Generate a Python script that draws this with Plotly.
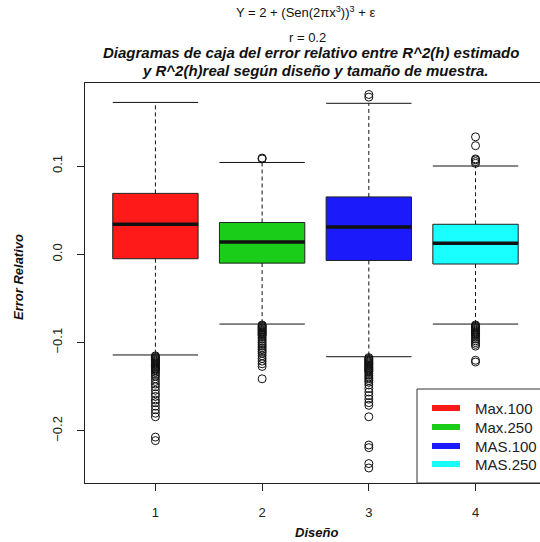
import plotly.graph_objects as go

# ---- data ----
designs = [1, 2, 3, 4]
names = ["Max.100", "Max.250", "MAS.100", "MAS.250"]
colors = ["#FF1A1A", "#19CD19", "#1A1AFA", "#19FFFF"]

q1 = [-0.005, -0.010, -0.007, -0.011]
median = [0.034, 0.014, 0.031, 0.0125]
q3 = [0.069, 0.036, 0.065, 0.034]
upper_whisker = [0.172, 0.104, 0.171, 0.100]
lower_whisker = [-0.114, -0.079, -0.116, -0.079]

out_max100 = [-0.115, -0.116, -0.117, -0.118, -0.119, -0.120, -0.121, -0.122, -0.123,
              -0.124, -0.125, -0.126, -0.127, -0.128, -0.129, -0.130, -0.131, -0.132,
              -0.134, -0.136, -0.138, -0.141, -0.144, -0.147, -0.150, -0.154, -0.158,
              -0.161, -0.165, -0.168, -0.172, -0.176, -0.180, -0.184, -0.207, -0.211]
out_max250 = [0.108, 0.109, -0.080, -0.081, -0.082, -0.083, -0.084, -0.085, -0.086,
              -0.087, -0.088, -0.089, -0.090, -0.091, -0.092, -0.094, -0.096, -0.098,
              -0.100, -0.102, -0.104, -0.106, -0.108, -0.110, -0.112, -0.115, -0.118,
              -0.121, -0.124, -0.127, -0.141]
out_mas100 = [0.178, 0.181, -0.117, -0.118, -0.119, -0.120, -0.121, -0.122, -0.123,
              -0.124, -0.125, -0.126, -0.127, -0.128, -0.129, -0.130, -0.131, -0.132,
              -0.133, -0.135, -0.137, -0.139, -0.141, -0.143, -0.145, -0.148, -0.152,
              -0.156, -0.160, -0.164, -0.168, -0.171, -0.184, -0.216, -0.219, -0.237,
              -0.242]
out_mas250 = [0.103, 0.105, 0.107, 0.108, 0.123, 0.133, -0.080, -0.081, -0.082, -0.083,
              -0.084, -0.085, -0.086, -0.087, -0.088, -0.089, -0.090, -0.091, -0.092,
              -0.094, -0.096, -0.098, -0.100, -0.102, -0.104, -0.120, -0.122]
outliers = [out_max100, out_max250, out_mas100, out_mas250]

ytick_vals = [-0.2, -0.1, 0.0, 0.1]
ytick_text = ["\u22120.2", "\u22120.1", "0.0", "0.1"]
xtick_text = ["1", "2", "3", "4"]

BOXW = 0.8
FONT = "Liberation Sans, Arial, sans-serif"

fig = go.Figure()

# boxes
fig.add_trace(go.Bar(
    x=designs, base=q1, y=[b - a for a, b in zip(q1, q3)], width=BOXW,
    marker=dict(color=colors, line=dict(color="#222222", width=1)),
    showlegend=False, hoverinfo="skip"))

# whiskers (dashed)
wx, wy = [], []
for i, d in enumerate(designs):
    wx += [d, d, None, d, d, None]
    wy += [q3[i], upper_whisker[i], None, q1[i], lower_whisker[i], None]
fig.add_trace(go.Scatter(x=wx, y=wy, mode="lines",
                         line=dict(color="#111111", width=1, dash="4px,3px"),
                         showlegend=False, hoverinfo="skip"))

# caps
cx, cy = [], []
for i, d in enumerate(designs):
    for v in (upper_whisker[i], lower_whisker[i]):
        cx += [d - BOXW / 2, d + BOXW / 2, None]
        cy += [v, v, None]
fig.add_trace(go.Scatter(x=cx, y=cy, mode="lines",
                         line=dict(color="#111111", width=1),
                         showlegend=False, hoverinfo="skip"))

# medians
mx, my = [], []
for i, d in enumerate(designs):
    mx += [d - BOXW / 2, d + BOXW / 2, None]
    my += [median[i], median[i], None]
fig.add_trace(go.Scatter(x=mx, y=my, mode="lines",
                         line=dict(color="#111111", width=3.5),
                         showlegend=False, hoverinfo="skip"))

# outliers
ox, oy = [], []
for d, vals in zip(designs, outliers):
    ox += [d] * len(vals)
    oy += vals
fig.add_trace(go.Scatter(x=ox, y=oy, mode="markers",
                         marker=dict(symbol="circle-open", size=8, color="#111111",
                                     line=dict(width=1)),
                         showlegend=False, hoverinfo="skip"))

L, T, B = 85, 83, 59
H = 542 - T - B
W = 540 - L

def px(xpix):
    return (xpix - L) / W

def py(ypix):
    return (542 - B - ypix) / H

annotations = [
    dict(text="Y = 2 + (Sen(2\u03c0x<sup>3</sup>))<sup>3</sup> + \u03b5", x=px(305), y=py(12),
         font=dict(size=13)),
    dict(text="r = 0.2", x=px(307), y=py(37), font=dict(size=13)),
    dict(text="<b><i>Diagramas de caja del error relativo entre R^2(h) estimado</i></b>",
         x=px(311), y=py(52), font=dict(size=15)),
    dict(text="<b><i>y R^2(h)real seg\u00fan dise\u00f1o y tama\u00f1o de muestra.</i></b>",
         x=px(315), y=py(70), font=dict(size=15)),
    dict(text="<b><i>Dise\u00f1o</i></b>", x=px(316), y=py(532), font=dict(size=13)),
    dict(text="<b><i>Error Relativo</i></b>", x=px(18), y=py(277),
         textangle=-90, font=dict(size=13)),
]

# legend (drawn as layout items so that spacing matches the reference)
shapes = [dict(type="rect", xref="paper", yref="paper", x0=px(417), x1=px(560),
               y0=py(483), y1=py(389), line=dict(color="#333333", width=1),
               fillcolor="rgba(255,255,255,0)", layer="above")]
leg_rows = [408, 427, 446, 464]
for n, c, r in zip(names, colors, leg_rows):
    shapes.append(dict(type="line", xref="paper", yref="paper", x0=px(432), x1=px(460),
                       y0=py(r), y1=py(r), line=dict(color=c, width=6), layer="above"))
    annotations.append(dict(text=n, x=px(473), y=py(r), xanchor="left",
                            font=dict(size=15, color="#222222")))

for a in annotations:
    a["xref"] = "paper"
    a["yref"] = "paper"
    a["showarrow"] = False
    a.setdefault("xanchor", "center")
    a["yanchor"] = "middle"
    a["font"]["family"] = FONT
    a["font"].setdefault("color", "#111111")

fig.update_layout(
    width=540, height=542,
    margin=dict(l=L, r=0, t=T, b=B),
    paper_bgcolor="white", plot_bgcolor="white",
    font=dict(family=FONT, size=13, color="#222222"),
    barmode="overlay",
    showlegend=False,
    annotations=annotations,
    shapes=shapes,
    xaxis=dict(range=[0.34, 0.34 + W / 106.7], tickvals=designs, ticktext=xtick_text,
               showgrid=False, zeroline=False, showline=True, mirror=True,
               linecolor="#222222", linewidth=1, ticks="outside", ticklen=7,
               tickcolor="#222222", ticklabelstandoff=10, tickfont=dict(size=13)),
    yaxis=dict(range=[-0.259, 0.194], tickvals=ytick_vals, ticktext=ytick_text,
               showgrid=False, zeroline=False, showline=True, linecolor="#222222",
               linewidth=1, ticks="outside", ticklen=7, tickcolor="#222222",
               tickangle=-90, ticklabelstandoff=10, tickfont=dict(size=13)),
)

fig.write_html("out.html")
